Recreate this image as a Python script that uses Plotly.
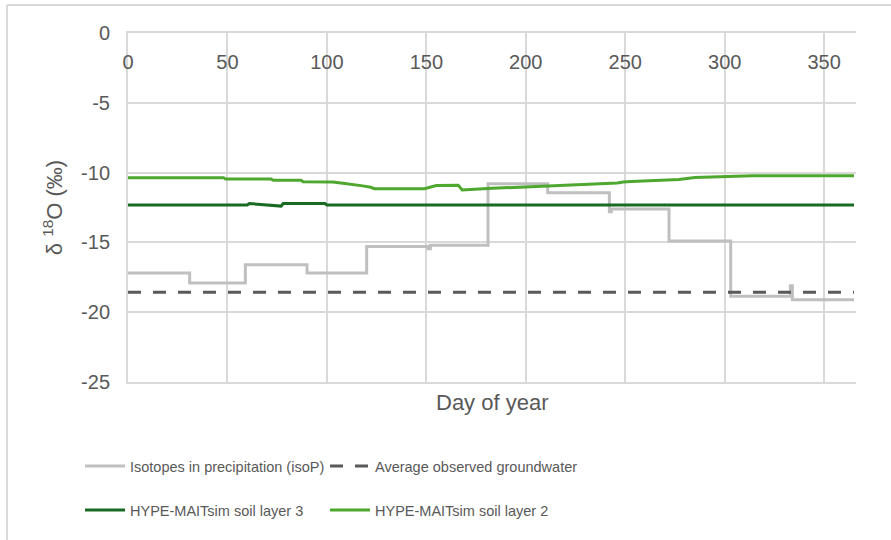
import plotly.graph_objects as go

# ---- data ----
precip_day = [0, 31, 59, 90, 120, 151, 152, 181, 211, 242, 243, 272, 303, 333, 334, 365]
precip_val = [-17.2, -17.9, -16.6, -17.2, -15.3, -15.45, -15.2, -10.8, -11.45, -12.8, -12.6,
              -14.9, -18.85, -18.1, -19.1, -19.1]

gw_day = [0, 365]
gw_val = [-18.57, -18.57]

layer3_day = [0, 60, 61, 77, 78, 99, 100, 365]
layer3_val = [-12.32, -12.32, -12.22, -12.4, -12.22, -12.22, -12.32, -12.32]

layer2_day = [0, 48, 49, 72, 73, 87, 88, 103, 108, 113, 118, 122, 124, 149, 152, 155, 166,
              168, 183, 201, 214, 234, 246, 249, 253, 277, 285, 314, 365]
layer2_val = [-10.36, -10.36, -10.46, -10.46, -10.55, -10.55, -10.65, -10.68, -10.77, -10.85,
              -10.95, -11.05, -11.15, -11.15, -11.02, -10.93, -10.9, -11.25, -11.13, -11.02,
              -10.94, -10.84, -10.75, -10.68, -10.63, -10.5, -10.35, -10.22, -10.22]

x_ticks = [0, 50, 100, 150, 200, 250, 300, 350]
y_ticks = [0, -5, -10, -15, -20, -25]
y_ticktext = ["0", "-5", "-10", "-15", "-20", "-25"]

TXT = "#595959"
GRID = "#d9d9d9"
FONT = "Liberation Sans, Arial, sans-serif"

fig = go.Figure()
fig.add_trace(go.Scatter(x=precip_day, y=precip_val, mode="lines", line_shape="hv",
                         name="Isotopes in precipitation (isoP)",
                         line=dict(color="#bfbfbf", width=3), legend="legend"))
fig.add_trace(go.Scatter(x=gw_day, y=gw_val, mode="lines",
                         name="Average observed groundwater",
                         line=dict(color="#595959", width=3, dash="13px,12px"), legend="legend2"))
fig.add_trace(go.Scatter(x=layer3_day, y=layer3_val, mode="lines",
                         name="HYPE-MAITsim soil layer 3",
                         line=dict(color="#196B24", width=3), legend="legend3"))
fig.add_trace(go.Scatter(x=layer2_day, y=layer2_val, mode="lines",
                         name="HYPE-MAITsim soil layer 2",
                         line=dict(color="#4EA72E", width=3), legend="legend4"))

leg_common = dict(orientation="h", xref="container", yref="container",
                  xanchor="left", yanchor="middle", itemwidth=40,
                  font=dict(family=FONT, size=14.5, color=TXT),
                  bgcolor="rgba(0,0,0,0)")

row1 = 1 - 466 / 540
row2 = 1 - 510 / 540
col1 = 80 / 891
col2 = 325 / 891

fig.update_layout(
    width=891, height=540,
    margin=dict(l=128, r=35, t=33, b=158, autoexpand=False),
    paper_bgcolor="white", plot_bgcolor="white",
    font=dict(family=FONT, color=TXT, size=17),
    showlegend=True,
    legend=dict(x=col1, y=row1, **leg_common),
    legend2=dict(x=col2, y=row1, **leg_common),
    legend3=dict(x=col1, y=row2, **leg_common),
    legend4=dict(x=col2, y=row2, **leg_common),
    xaxis=dict(range=[0, 366], side="top", tickvals=x_ticks,
               ticklabelposition="inside", ticklabelstandoff=23,
               ticklabeloverflow="allow",
               showgrid=True, gridcolor=GRID, gridwidth=2,
               showline=True, linecolor=GRID, linewidth=2, mirror=True,
               zeroline=False, ticks="",
               tickfont=dict(size=20, color=TXT, family=FONT)),
    yaxis=dict(range=[-25, 0], tickvals=y_ticks, ticktext=y_ticktext,
               showgrid=True, gridcolor=GRID, gridwidth=2,
               showline=True, linecolor=GRID, linewidth=2, mirror=False,
               zeroline=False, ticks="", ticklabeloverflow="allow",
               ticklabelstandoff=12,
               tickfont=dict(size=20, color=TXT, family=FONT),
               title=dict(text="δ <sup>18</sup>O (‰)", standoff=12,
                          font=dict(size=22, color=TXT, family=FONT))),
)

fig.add_annotation(text="Day of year", xref="paper", yref="paper", x=0.5,
                   y=(382 - 402) / 349, yanchor="middle", showarrow=False,
                   font=dict(size=22, color=TXT, family=FONT))

# chart outer border (top and left edges visible in reference)
fig.add_shape(type="line", xref="paper", yref="paper",
              x0=(7 - 128) / 728, x1=(891 - 128) / 728,
              y0=(382 - 5) / 349, y1=(382 - 5) / 349,
              line=dict(color=GRID, width=2))
fig.add_shape(type="line", xref="paper", yref="paper",
              x0=(7 - 128) / 728, x1=(7 - 128) / 728,
              y0=(382 - 5) / 349, y1=(382 - 540) / 349,
              line=dict(color=GRID, width=2))

fig.write_html("out.html")
